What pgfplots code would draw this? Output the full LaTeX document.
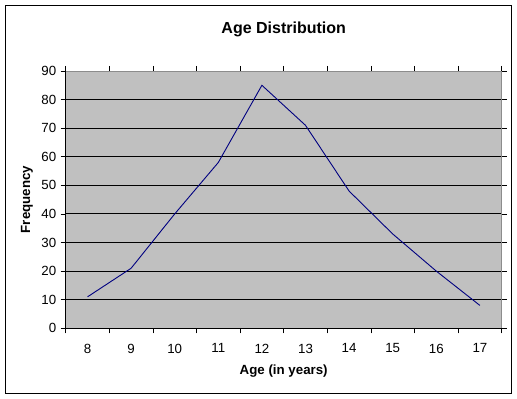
\documentclass[border=0pt]{standalone}
\usepackage{pgfplots}
\pgfplotsset{compat=1.18}
\usepackage{fontspec}
\setmainfont{Liberation Sans}
\definecolor{plotbg}{RGB}{192,192,192}
\definecolor{navy}{RGB}{0,0,128}
\begin{document}
\begin{tikzpicture}[x=1pt,y=1pt]
\path[use as bounding box] (0,0) rectangle (517,399);
\draw[black, line width=1pt] (5.5,5.5) rectangle (511.5,393.5);
\begin{axis}[
  at={(65.7pt,70.7pt)}, anchor=south west,
  scale only axis, width=436pt, height=257.3pt,
  xmin=7.5, xmax=17.5, ymin=0, ymax=90,
  xtick={8,...,17},
  minor xtick={7.5,8.5,...,17.5},
  ytick={0,10,...,90},
  tick align=outside,
  major tick length=5pt, minor tick length=5pt,
  major x tick style={draw=none},
  minor x tick style={black, line width=0.8pt},
  major y tick style={black, line width=0.8pt},
  axis background/.style={fill=plotbg},
  axis line style={draw=gray!90, line width=0.8pt},
  ymajorgrids, major grid style={black, line width=0.9pt},
  /pgf/number format/assume math mode=true,
  ticklabel style={font=\fontsize{13.3}{16}\selectfont},
  xticklabel style={yshift=-7pt},
  yticklabel style={xshift=-1pt},
  title={Age Distribution},
  title style={font=\bfseries\fontsize{16}{19}\selectfont, at={([yshift=36pt]axis description cs:0.5,1)}, anchor=center},
  xlabel={Age (in years)},
  xlabel style={font=\bfseries\fontsize{13.3}{16}\selectfont, at={([yshift=-42.5pt]axis description cs:0.5,0)}, anchor=center},
  ylabel={Frequency},
  ylabel style={font=\bfseries\fontsize{13.3}{16}\selectfont, at={([xshift=-38.7pt]axis description cs:0,0.5)}, anchor=center},
  clip=false,
]
\addplot[navy, line width=0.9pt, mark=none] coordinates {
 (8,11) (9,21) (10,40) (11,58) (12,85) (13,71) (14,48) (15,33) (16,20) (17,8)
};
\draw[black, line width=0.9pt] (axis cs:7.5,90) -- (axis cs:7.5,0) -- (axis cs:17.5,0);
\end{axis}
\end{tikzpicture}
\end{document}
